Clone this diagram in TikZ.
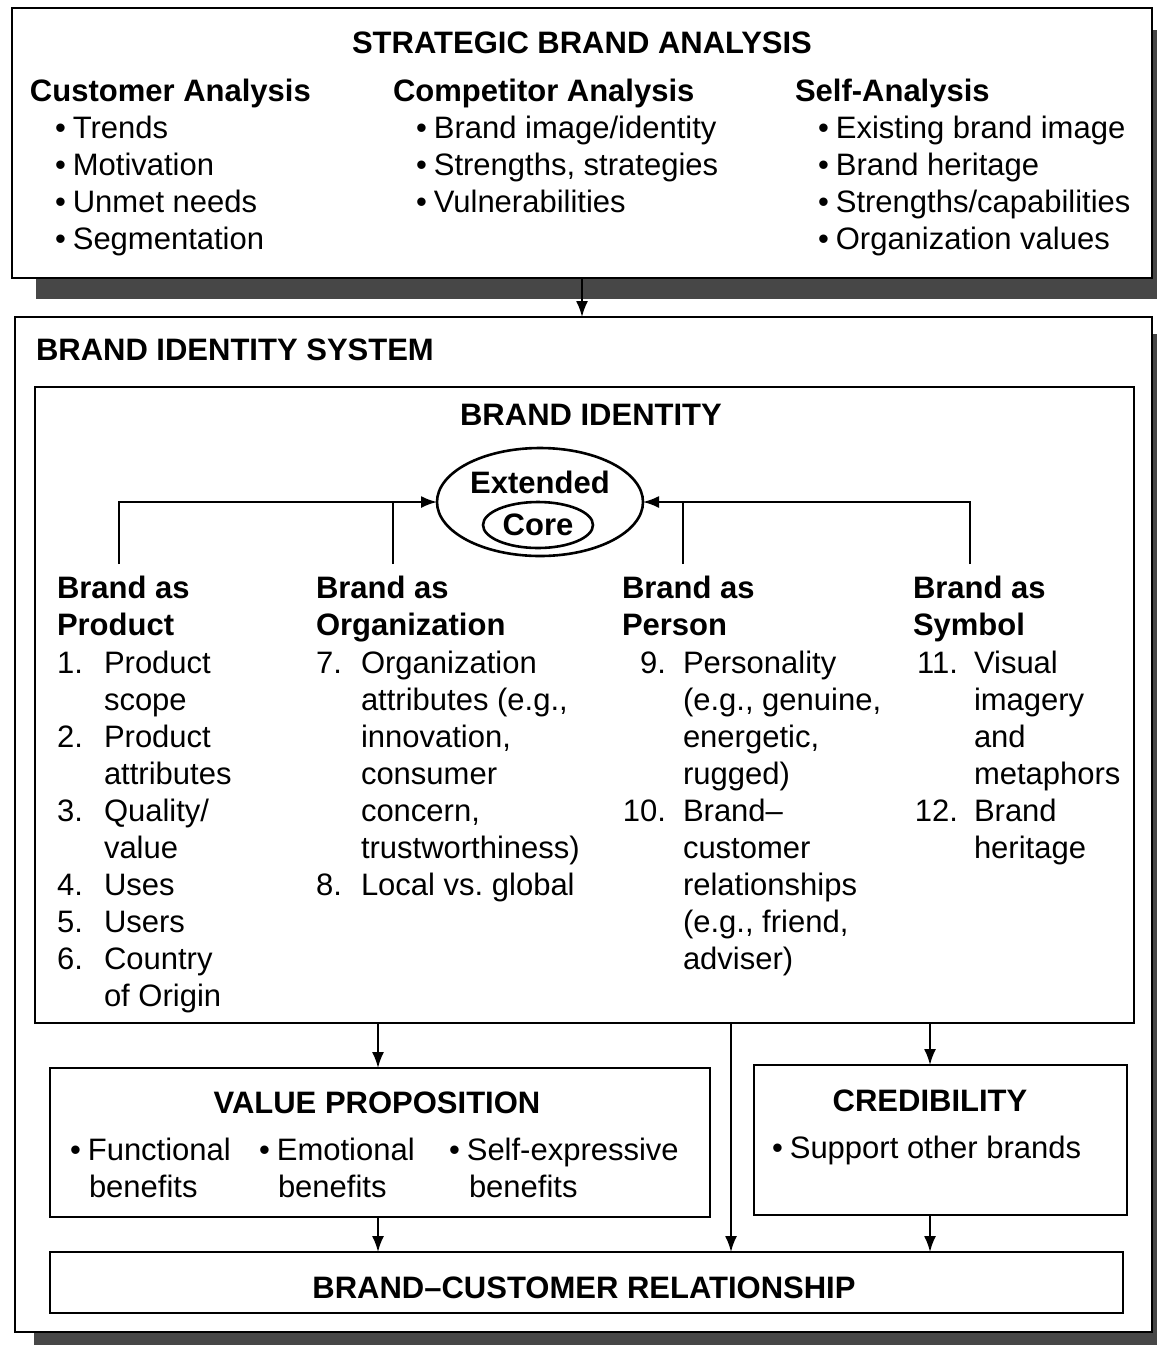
\documentclass[tikz,border=0pt]{standalone}
\usepackage{fontspec}
\setmainfont{Liberation Sans}
\usetikzlibrary{arrows.meta,shapes.geometric,calc}
\newcommand\bodysize{\fontsize{31}{37}\selectfont}
\newcommand\blt{\textbullet\hspace{7pt}}
\frenchspacing
\begin{document}
\begin{tikzpicture}[x=1pt,y=-1pt,
  every node/.style={inner sep=0pt,outer sep=0pt,font=\bodysize},
  txt/.style={anchor=base west},
  num/.style={anchor=base east},
  head/.style={anchor=base west,font=\bodysize\bfseries},
  title/.style={anchor=base,font=\bodysize\bfseries},
  frame/.style={draw,line width=2.9pt,fill=white,rectangle,anchor=north west},
  shade/.style={fill=black!72},
  link/.style={line width=1.9pt},
  tip/.style={link,-{Latex[length=16pt,width=12pt]}},
  oval/.style={draw,ellipse,line width=2.6pt}]
\useasboundingbox (0,0) rectangle (1157,1345);
\clip (0,0) rectangle (1157,1345);
\fill[white] (0,0) rectangle (1157,1345);

% ---------- strategic brand analysis ----------
\fill[shade] (36,30) rectangle (1180,299);
\node[frame,minimum width=1140pt,minimum height=270pt] (sba) at (12,8) {};
\node[title] (sbat) at (582,53) {STRATEGIC BRAND ANALYSIS};

\node[head] (ca) at (30,101) {Customer Analysis};
\foreach \t [count=\i from 0] in {Trends,Motivation,Unmet needs,Segmentation}
  \node[txt] (ca\i) at (55,138+37*\i) {\blt\t};

\node[head] (co) at (393,101) {Competitor Analysis};
\foreach \t [count=\i from 0] in {Brand image/identity,{Strengths, strategies},Vulnerabilities}
  \node[txt] (co\i) at (416,138+37*\i) {\blt\t};

\node[head] (sa) at (795,101) {Self-Analysis};
\foreach \t [count=\i from 0] in {Existing brand image,Brand heritage,Strengths/capabilities,Organization values}
  \node[txt] (sa\i) at (818,138+37*\i) {\blt\t};

% ---------- brand identity system ----------
\fill[shade] (34,334) rectangle (1180,1360);
\node[frame,minimum width=1137pt,minimum height=1015pt] (bis) at (15,317) {};
\draw[tip] (sba.south -| 582,0) -- (bis.north -| 582,0);
\node[head] (bist) at (36,360) {BRAND IDENTITY SYSTEM};

\node[frame,minimum width=1099pt,minimum height=636pt] (ibox) at (35,387) {};
\node[title] (bit) at (591,425) {BRAND IDENTITY};

\node[oval,minimum width=206pt,minimum height=108pt] (ext) at (540,502) {};
\node[font=\bodysize\bfseries,anchor=base] (extt) at (540,493) {Extended};
\node[oval,minimum width=110pt,minimum height=46pt] (core) at (538,525) {};
\node[font=\bodysize\bfseries,anchor=base] (coret) at (538,535) {Core};

% perspectives feeding the identity
\coordinate (p1) at (119,564);
\coordinate (p2) at (393,564);
\coordinate (p3) at (683,564);
\coordinate (p4) at (970,564);
\draw[tip] (p1) |- (ext.west);
\draw[link] (p2) -- (p2 |- ext.west);
\draw[tip] (p4) |- (ext.east);
\draw[link] (p3) -- (p3 |- ext.east);

% brand as product
\node[head] (h1a) at (57,598) {Brand as};
\node[head] (h1b) at (57,635) {Product};
\foreach \n/\r in {1/0,2/2,3/4,4/6,5/7,6/8}
  \node[num] (n1\n) at (83,673+37.1*\r) {\n.};
\foreach \t [count=\i from 0] in {Product,scope,Product,attributes,Quality/,value,Uses,Users,Country,of Origin}
  \node[txt] (t1\i) at (104,673+37.1*\i) {\t};

% brand as organization
\node[head] (h2a) at (316,598) {Brand as};
\node[head] (h2b) at (316,635) {Organization};
\foreach \n/\r in {7/0,8/6}
  \node[num] (n2\n) at (342,673+37.1*\r) {\n.};
\foreach \t [count=\i from 0] in {Organization,{attributes (e.g.,},{innovation,},consumer,{concern,},trustworthiness),Local vs. global}
  \node[txt] (t2\i) at (361,673+37.1*\i) {\t};

% brand as person
\node[head] (h3a) at (622,598) {Brand as};
\node[head] (h3b) at (622,635) {Person};
\foreach \n/\r in {9/0,10/4}
  \node[num] (n3\n) at (666,673+37.1*\r) {\n.};
\foreach \t [count=\i from 0] in {Personality,{(e.g., genuine,},{energetic,},rugged),Brand--,customer,relationships,{(e.g., friend,},adviser)}
  \node[txt] (t3\i) at (683,673+37.1*\i) {\t};

% brand as symbol
\node[head] (h4a) at (913,598) {Brand as};
\node[head] (h4b) at (913,635) {Symbol};
\foreach \n/\r in {11/0,12/4}
  \node[num] (n4\n) at (958,673+37.1*\r) {\n.};
\foreach \t [count=\i from 0] in {Visual,imagery,and,metaphors,Brand,heritage}
  \node[txt] (t4\i) at (974,673+37.1*\i) {\t};

% ---------- value proposition and credibility ----------
\node[frame,minimum width=660pt,minimum height=149pt] (vp) at (50,1068) {};
\node[title] (vpt) at (377,1113) {VALUE PROPOSITION};
\node[txt] (vp1) at (70,1160) {\blt Functional};
\node[txt] (vp1b) at (89,1197) {benefits};
\node[txt] (vp2) at (259,1160) {\blt Emotional};
\node[txt] (vp2b) at (278,1197) {benefits};
\node[txt] (vp3) at (449,1160) {\blt Self-expressive};
\node[txt] (vp3b) at (469,1197) {benefits};

\node[frame,minimum width=373pt,minimum height=150pt] (cred) at (754,1065) {};
\node[title] (credt) at (930,1111) {CREDIBILITY};
\node[txt] (cr1) at (772,1158) {\blt Support other brands};

% ---------- brand-customer relationship ----------
\node[frame,minimum width=1073pt,minimum height=61pt] (bcr) at (50,1252) {};
\node[title] (bcrt) at (584,1298) {BRAND--CUSTOMER RELATIONSHIP};

% flows toward the relationship
\coordinate (q1) at (378,0);
\coordinate (q2) at (731,0);
\coordinate (q3) at (930,0);
\draw[tip] (q1 |- ibox.south) -- (q1 |- vp.north);
\draw[tip] (q3 |- ibox.south) -- (q3 |- cred.north);
\draw[tip] (q2 |- ibox.south) -- (q2 |- bcr.north);
\draw[tip] (q1 |- vp.south) -- (q1 |- bcr.north);
\draw[tip] (q3 |- cred.south) -- (q3 |- bcr.north);
\end{tikzpicture}
\end{document}
